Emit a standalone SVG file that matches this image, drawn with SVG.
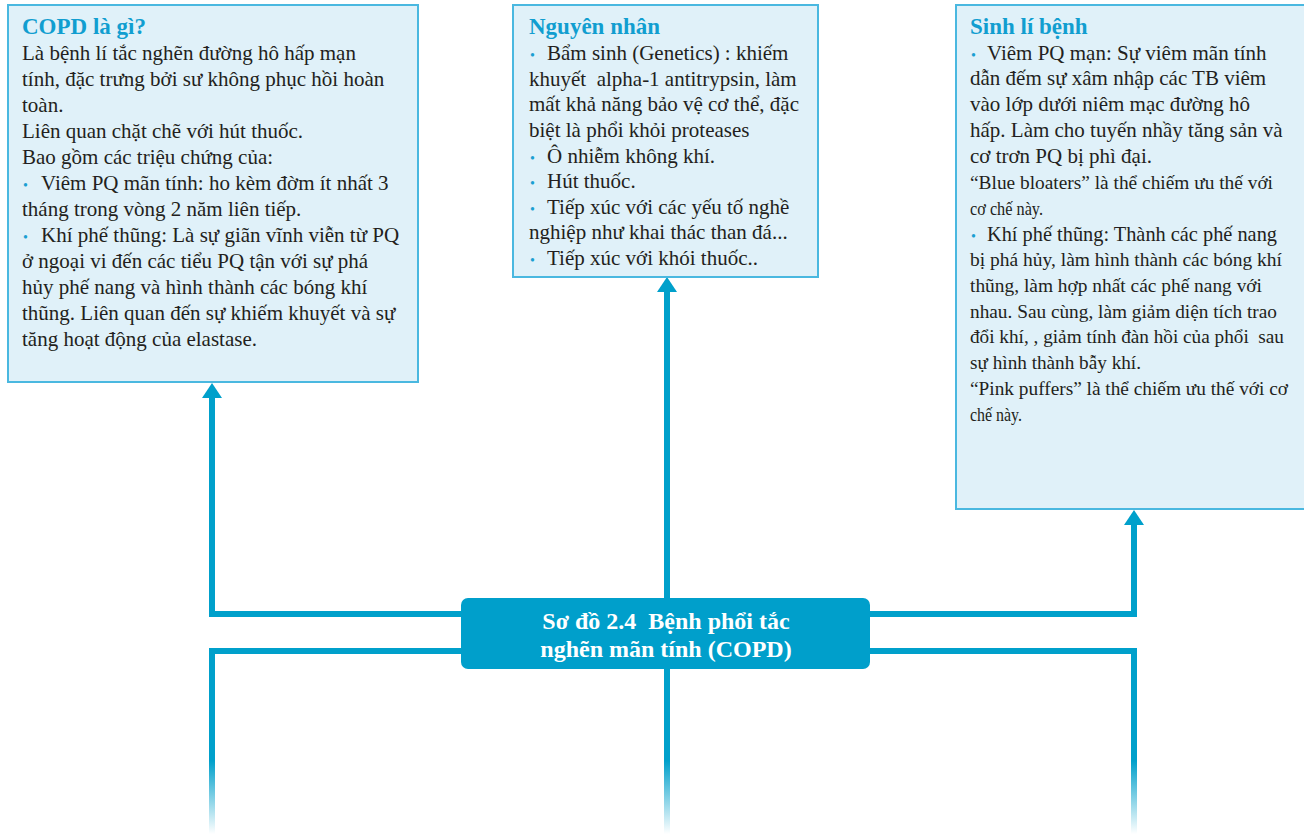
<svg xmlns="http://www.w3.org/2000/svg" width="1304" height="834" viewBox="0 0 1304 834">
  <style>
    .box { fill: #e0f1f9; stroke: #4ab8e0; stroke-width: 2; }
    .title { font-family: "Liberation Serif", "Times New Roman", serif; font-weight: bold; font-size: 23px; fill: #119ed0; }
    .body { font-family: "Liberation Serif", "Times New Roman", serif; font-size: 21px; fill: #231f20; }
    .cond { font-size: 19.5px; }
    .bul { font-family: "Liberation Serif", "Times New Roman", serif; font-size: 14px; fill: #1a9fd2; }
    .conn { fill: none; stroke: #00a0cb; stroke-width: 6; }
    .center { fill: #009fcb; }
    .ctext { font-family: "Liberation Serif", "Times New Roman", serif; font-weight: bold; font-size: 24px; fill: #ffffff; text-anchor: middle; }
  </style>
  <defs>
    <marker id="arrow" viewBox="0 0 15 20" refX="0" refY="10" markerWidth="15" markerHeight="20" markerUnits="userSpaceOnUse" orient="auto">
      <path d="M0,0 L15,10 L0,20 Z" fill="#00a0cb"/>
    </marker>
    <linearGradient id="fade" gradientUnits="userSpaceOnUse" x1="0" y1="651" x2="0" y2="834">
      <stop offset="0" stop-color="#00a0cb" stop-opacity="1"/>
      <stop offset="0.6" stop-color="#00a0cb" stop-opacity="1"/>
      <stop offset="1" stop-color="#00a0cb" stop-opacity="0"/>
    </linearGradient>
  </defs>

  <!-- connectors -->
  <g id="connectors">
    <path class="conn" d="M462,614 H212 V398" marker-end="url(#arrow)"/>
    <path class="conn" d="M667,598 V292" marker-end="url(#arrow)"/>
    <path class="conn" d="M870,614 H1134 V525" marker-end="url(#arrow)"/>
    <path class="conn" style="stroke:url(#fade)" d="M462,651 H212 V834"/>
    <path class="conn" style="stroke:url(#fade)" d="M667,669 V834"/>
    <path class="conn" style="stroke:url(#fade)" d="M870,651 H1134 V834"/>
  </g>

  <!-- COPD definition -->
  <g id="copd">
    <rect class="box" x="8" y="5" width="410" height="377"/>
    <text class="title" x="22" y="34">COPD là gì?</text>
    <text class="body" x="22" y="60">Là bệnh lí tắc nghẽn đường hô hấp mạn</text>
    <text class="body" x="22" y="86">tính, đặc trưng bởi sư không phục hồi hoàn</text>
    <text class="body" x="22" y="112">toàn.</text>
    <text class="body" x="22" y="138">Liên quan chặt chẽ với hút thuốc.</text>
    <text class="body" x="22" y="164">Bao gồm các triệu chứng của:</text>
    <text class="bul" x="23" y="190">•</text>
    <text class="body" x="41" y="190">Viêm PQ mãn tính: ho kèm đờm ít nhất 3</text>
    <text class="body" x="22" y="216">tháng trong vòng 2 năm liên tiếp.</text>
    <text class="bul" x="23" y="242">•</text>
    <text class="body" x="41" y="242">Khí phế thũng: Là sự giãn vĩnh viễn từ PQ</text>
    <text class="body" x="22" y="268">ở ngoại vi đến các tiểu PQ tận với sự phá</text>
    <text class="body" x="22" y="294">hủy phế nang và hình thành các bóng khí</text>
    <text class="body" x="22" y="320">thũng. Liên quan đến sự khiếm khuyết và sự</text>
    <text class="body" x="22" y="346">tăng hoạt động của elastase.</text>
  </g>

  <!-- causes -->
  <g id="causes">
    <rect class="box" x="513" y="5" width="305" height="272"/>
    <text class="title" x="529" y="34">Nguyên nhân</text>
    <text class="bul" x="530" y="60">•</text>
    <text class="body" x="547" y="60">Bẩm sinh (Genetics) : khiếm</text>
    <text class="body" x="529" y="86" xml:space="preserve">khuyết  alpha-1 antitrypsin, làm</text>
    <text class="body" x="529" y="111">mất khả năng bảo vệ cơ thể, đặc</text>
    <text class="body" x="529" y="137">biệt là phổi khỏi proteases</text>
    <text class="bul" x="530" y="163">•</text>
    <text class="body" x="547" y="163">Ô nhiễm không khí.</text>
    <text class="bul" x="530" y="188">•</text>
    <text class="body" x="547" y="188">Hút thuốc.</text>
    <text class="bul" x="530" y="214">•</text>
    <text class="body" x="547" y="214">Tiếp xúc với các yếu tố nghề</text>
    <text class="body" x="529" y="239">nghiệp như khai thác than đá...</text>
    <text class="bul" x="530" y="265">•</text>
    <text class="body" x="547" y="265">Tiếp xúc với khói thuốc..</text>
  </g>

  <!-- pathophysiology -->
  <g id="pathophysiology">
    <rect class="box" x="956" y="5" width="360" height="504"/>
    <text class="title" x="970" y="34">Sinh lí bệnh</text>
    <text class="bul" x="971" y="60">•</text>
    <text class="body" x="987" y="60">Viêm PQ mạn: Sự viêm mãn tính</text>
    <text class="body" x="970" y="85">dẫn đếm sự xâm nhập các TB viêm</text>
    <text class="body" x="970" y="111">vào lớp dưới niêm mạc đường hô</text>
    <text class="body" x="970" y="137">hấp. Làm cho tuyến nhầy tăng sản và</text>
    <text class="body" x="970" y="163">cơ trơn PQ bị phì đại.</text>
    <text class="body cond" x="970" y="189" textLength="303" lengthAdjust="spacingAndGlyphs">“Blue bloaters” là thể chiếm ưu thế với</text>
    <text class="body cond" x="970" y="215" textLength="73" lengthAdjust="spacingAndGlyphs">cơ chế này.</text>
    <text class="bul" x="971" y="241">•</text>
    <text class="body" x="987" y="241" textLength="290" lengthAdjust="spacingAndGlyphs">Khí phế thũng: Thành các phế nang</text>
    <text class="body cond" x="970" y="266" textLength="312" lengthAdjust="spacingAndGlyphs">bị phá hủy, làm hình thành các bóng khí</text>
    <text class="body cond" x="970" y="292" textLength="292" lengthAdjust="spacingAndGlyphs">thũng, làm hợp nhất các phế nang với</text>
    <text class="body cond" x="970" y="318" textLength="307" lengthAdjust="spacingAndGlyphs">nhau. Sau cùng, làm giảm diện tích trao</text>
    <text class="body cond" x="970" y="343" textLength="314" lengthAdjust="spacingAndGlyphs" xml:space="preserve">đổi khí, , giảm tính đàn hồi của phổi  sau</text>
    <text class="body cond" x="970" y="369" textLength="171" lengthAdjust="spacingAndGlyphs">sự hình thành bẫy khí.</text>
    <text class="body cond" x="970" y="395" textLength="318" lengthAdjust="spacingAndGlyphs">“Pink puffers” là thể chiếm ưu thế với cơ</text>
    <text class="body cond" x="970" y="421" textLength="52" lengthAdjust="spacingAndGlyphs">chế này.</text>
  </g>

  <!-- central topic -->
  <g id="topic">
    <rect class="center" x="461" y="598" width="409" height="71" rx="7"/>
    <text class="ctext" x="666" y="629" xml:space="preserve">Sơ đồ 2.4  Bệnh phổi tắc</text>
    <text class="ctext" x="666" y="657">nghẽn mãn tính (COPD)</text>
  </g>
</svg>
